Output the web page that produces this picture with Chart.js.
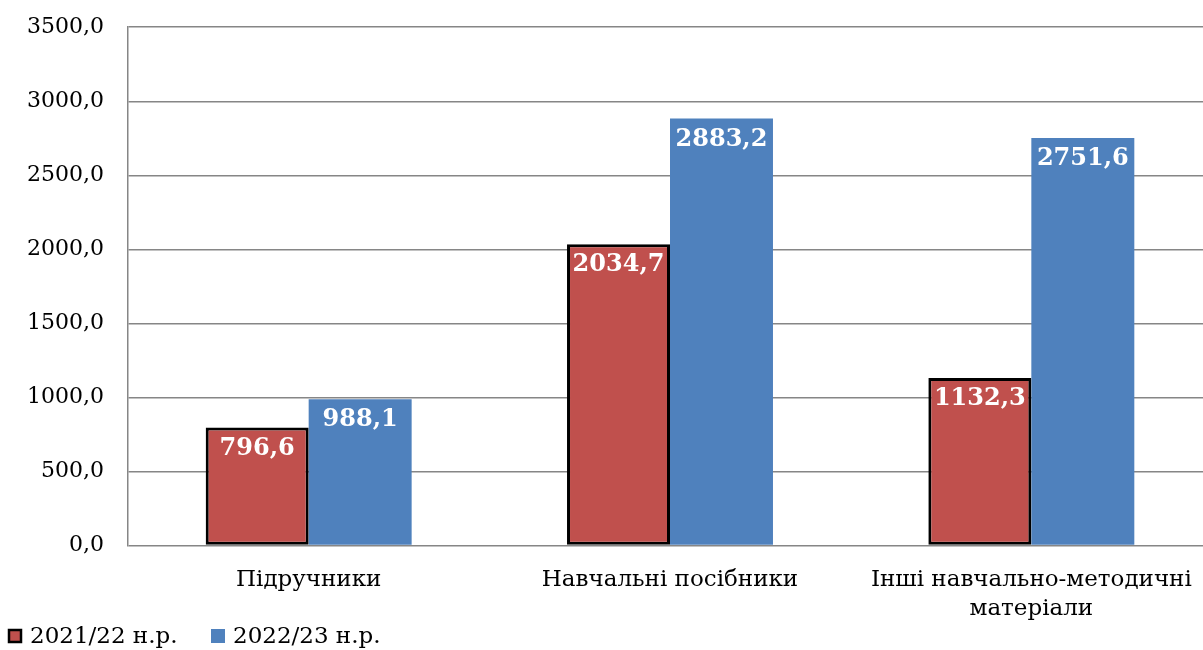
<!DOCTYPE html>
<html>
<head>
<meta charset="utf-8">
<script src="https://cdn.jsdelivr.net/npm/chart.js@4"></script>
<style>
  html, body { margin: 0; padding: 0; background: #fff; overflow: hidden; }
  #wrap { width: 1212px; height: 650px; overflow: hidden; }
  #chart { margin-top: -10px; display: block; }
</style>
</head>
<body>
<div id="wrap"><canvas id="chart" width="1212" height="660"></canvas></div>
<script>
const categories = ['Підручники', 'Навчальні посібники', ['Інші навчально-методичні', 'матеріали']];
const seriesNames = ['2021/22 н.р.', '2022/23 н.р.'];
const values2021 = [796.6, 2034.7, 1132.3];
const values2022 = [988.1, 2883.2, 2751.6];
const yTicks = [0, 500, 1000, 1500, 2000, 2500, 3000, 3500];

const serif = "'DejaVu Serif', 'Liberation Serif', serif";
const fmt = (v) => v.toFixed(1).replace('.', ',');

// white bold value labels near the top of each bar
const valueLabels = {
    id: 'valueLabels',
    afterDatasetsDraw(chart) {
        const ctx = chart.ctx;
        ctx.save();
        ctx.fillStyle = '#ffffff';
        ctx.font = 'bold 24px ' + serif;
        ctx.textAlign = 'center';
        ctx.textBaseline = 'middle';
        chart.data.datasets.forEach((ds, i) => {
            chart.getDatasetMeta(i).data.forEach((bar, j) => {
                ctx.fillText(fmt(ds.data[j]), bar.x, bar.y + 21);
            });
        });
        ctx.restore();
    }
};

// legend in the bottom left corner, like the original
const bottomLegend = {
    id: 'bottomLegend',
    afterDraw(chart) {
        const ctx = chart.ctx;
        const cy = chart.height - 14;
        const starts = [8, 211];
        ctx.save();
        ctx.font = '23px ' + serif;
        ctx.textBaseline = 'middle';
        chart.data.datasets.forEach((ds, i) => {
            const x = starts[i];
            ctx.fillStyle = ds.backgroundColor;
            ctx.fillRect(x, cy - 7, 14, 14);
            if (ds.borderWidth) {
                ctx.strokeStyle = ds.borderColor;
                ctx.lineWidth = 2.5;
                ctx.strokeRect(x + 1, cy - 6, 12, 12);
            }
            ctx.fillStyle = '#000';
            ctx.fillText(ds.label, x + 22, cy + 1);
        });
        ctx.restore();
    }
};

new Chart(document.getElementById('chart'), {
    type: 'bar',
    data: {
        labels: categories,
        datasets: [
            {
                label: seriesNames[0],
                data: values2021,
                backgroundColor: '#C0504D',
                borderColor: '#000000',
                borderWidth: 3,
                borderSkipped: false
            },
            {
                label: seriesNames[1],
                data: values2022,
                backgroundColor: '#4F81BD',
                borderWidth: 0
            }
        ]
    },
    options: {
        responsive: false,
        animation: false,
        layout: { padding: { top: 6, right: 0, bottom: 6, left: 0 } },
        datasets: { bar: { categoryPercentage: 0.57, barPercentage: 1 } },
        scales: {
            x: {
                grid: { display: false, drawTicks: false },
                border: { display: false },
                ticks: { color: '#000', font: { family: serif, size: 23, lineHeight: 1.27 }, padding: 20, maxRotation: 0 }
            },
            y: {
                min: 0,
                max: 3500,
                afterBuildTicks(scale) { scale.ticks = yTicks.map(v => ({ value: v })); },
                afterFit(scale) { scale.width = 128; },
                grid: { color: '#868686', lineWidth: 1.5, drawTicks: false },
                border: { color: '#868686', width: 1.5 },
                ticks: { color: '#000', font: { family: serif, size: 22 }, padding: 24, callback: (v) => fmt(v) }
            }
        },
        plugins: {
            legend: { display: false },
            tooltip: { enabled: false }
        }
    },
    plugins: [valueLabels, bottomLegend]
});
</script>
</body>
</html>
